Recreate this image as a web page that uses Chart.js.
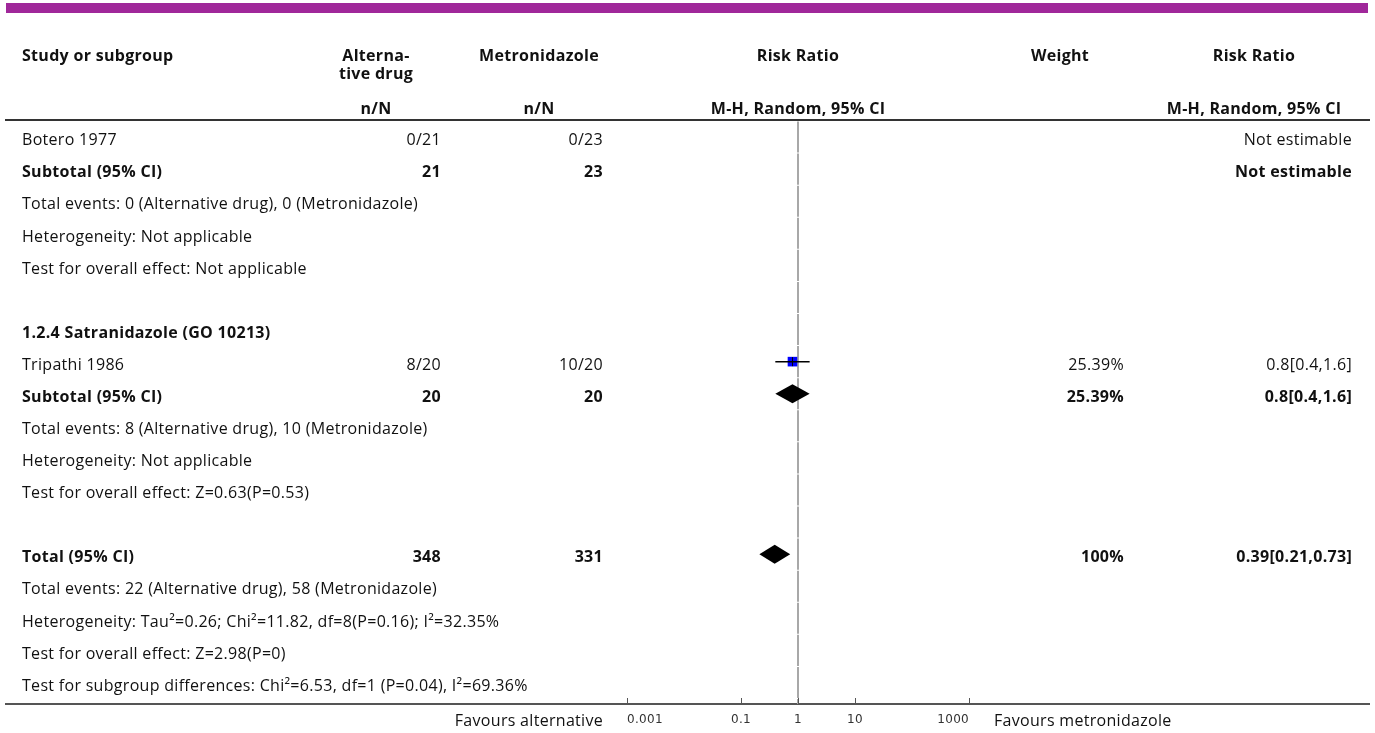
<!DOCTYPE html>
<html>
<head>
<meta charset="utf-8">
<script src="https://cdn.jsdelivr.net/npm/chart.js@4.4.1/dist/chart.umd.min.js"></script>
<style>
  html, body { margin: 0; padding: 0; background: #fff; }
  #page { position: relative; width: 1375px; height: 733px; overflow: hidden;
          font-family: "Open Sans", Lato, sans-serif; font-size: 16px; letter-spacing: 0.3px; color: #111; }
  .t { position: absolute; white-space: nowrap; line-height: 20px; }
  .b { font-weight: bold; }
  .rule { position: absolute; height: 2px; }
  #forest { position: absolute; left: 0; top: 0; }
</style>
</head>
<body>
<div id="page">
  <div style="position:absolute;left:6px;top:3px;width:1362px;height:10px;background:#a0289a"></div>
  <div class="rule" style="left:5px;top:119px;width:1365px;background:#333"></div>
  <div class="rule" style="left:5px;top:703px;width:1365px;background:#555"></div>
  <canvas id="forest" width="1375" height="733"></canvas>
</div>
<script>
// ---- table rows, top to bottom ----
const rowLabels = [
  'Botero 1977',
  'Subtotal (95% CI)',
  'Total events: 0 (Alternative drug), 0 (Metronidazole)',
  'Heterogeneity: Not applicable',
  'Test for overall effect: Not applicable',
  '',
  '1.2.4 Satranidazole (GO 10213)',
  'Tripathi 1986',
  'Subtotal (95% CI)',
  'Total events: 8 (Alternative drug), 10 (Metronidazole)',
  'Heterogeneity: Not applicable',
  'Test for overall effect: Z=0.63(P=0.53)',
  '',
  'Total (95% CI)',
  'Total events: 22 (Alternative drug), 58 (Metronidazole)',
  'Heterogeneity: Tau\u00b2=0.26; Chi\u00b2=11.82, df=8(P=0.16); I\u00b2=32.35%',
  'Test for overall effect: Z=2.98(P=0)',
  'Test for subgroup differences: Chi\u00b2=6.53, df=1 (P=0.04), I\u00b2=69.36%'
];
const boldRows = [1, 6, 8, 13];

// n/N cells per row
const altCells   = { 0: '0/21', 1: '21', 7: '8/20',  8: '20', 13: '348' };
const metroCells = { 0: '0/23', 1: '23', 7: '10/20', 8: '20', 13: '331' };
const notEstimableRows = [0, 1];

// individual studies
const studyRows   = [7];
const studyRR     = [0.8];
const studyLow    = [0.4];
const studyHigh   = [1.6];
const studyWeight = ['25.39%'];

// pooled estimates (subtotal and total)
const pooledRows   = [8, 13];
const pooledRR     = [0.8, 0.39];
const pooledLow    = [0.4, 0.21];
const pooledHigh   = [1.6, 0.73];
const pooledWeight = ['25.39%', '100%'];

// risk-ratio axis
const axisTicks      = [0.001, 0.1, 1, 10, 1000];
const axisTickLabels = ['0.001', '0.1', '1', '10', '1000'];

// ---- layout ----
const ROW0 = 137.3, ROW_H = 32.08;
const rowCenter = i => ROW0 + ROW_H * i;
const TEXT_DY = 2;

const page = document.getElementById('page');
function put(text, x, yc, align, bold) {
  const d = document.createElement('div');
  d.className = 't' + (bold ? ' b' : '');
  d.textContent = text;
  d.style.top = (yc - 10) + 'px';
  if (align === 'left') d.style.left = x + 'px';
  else if (align === 'right') d.style.right = (1375 - x) + 'px';
  else { d.style.left = (x - 200) + 'px'; d.style.width = '400px'; d.style.textAlign = 'center'; }
  page.appendChild(d);
}

// header
put('Study or subgroup', 22, 55, 'left', true);
put('Alterna-', 376, 55, 'center', true);
put('tive drug', 376, 73, 'center', true);
put('Metronidazole', 539, 55, 'center', true);
put('Risk Ratio', 798, 55, 'center', true);
put('Weight', 1060, 55, 'center', true);
put('Risk Ratio', 1254, 55, 'center', true);
put('n/N', 376, 108, 'center', true);
put('n/N', 539, 108, 'center', true);
put('M-H, Random, 95% CI', 798, 108, 'center', true);
put('M-H, Random, 95% CI', 1254, 108, 'center', true);

const ciText = (rr, lo, hi) => rr + '[' + lo + ',' + hi + ']';

rowLabels.forEach((label, i) => {
  const yc = rowCenter(i) + TEXT_DY;
  const bold = boldRows.includes(i);
  if (label) put(label, 22, yc, 'left', bold);
  if (altCells[i]) put(altCells[i], 441, yc, 'right', bold);
  if (metroCells[i]) put(metroCells[i], 603, yc, 'right', bold);
  if (notEstimableRows.includes(i)) put('Not estimable', 1352, yc, 'right', bold);
});
studyRows.forEach((r, k) => {
  const yc = rowCenter(r) + TEXT_DY;
  put(studyWeight[k], 1124, yc, 'right', false);
  put(ciText(studyRR[k], studyLow[k], studyHigh[k]), 1352, yc, 'right', false);
});
pooledRows.forEach((r, k) => {
  const yc = rowCenter(r) + TEXT_DY;
  put(pooledWeight[k], 1124, yc, 'right', true);
  put(ciText(pooledRR[k], pooledLow[k], pooledHigh[k]), 1352, yc, 'right', true);
});

put('Favours alternative', 603, 720, 'right', false);
put('Favours metronidazole', 994, 720, 'left', false);

// ---- forest plot ----
const Y_MIN = -0.5, Y_MAX = 17.67;

const nullLine = {
  id: 'nullLine',
  beforeDatasetsDraw(chart) {
    const { ctx, chartArea, scales: { x, y } } = chart;
    const px = x.getPixelForValue(1);
    ctx.save();
    ctx.strokeStyle = '#a8a8a8';
    ctx.lineWidth = 2;
    for (let b = Y_MIN; b < Y_MAX; b += 1) {
      const y0 = y.getPixelForValue(b) + 0.5;
      const y1 = Math.min(y.getPixelForValue(b + 1) - 0.5, chartArea.bottom);
      ctx.beginPath();
      ctx.moveTo(px, y0);
      ctx.lineTo(px, y1);
      ctx.stroke();
    }
    ctx.restore();
  }
};

const diamonds = {
  id: 'diamonds',
  afterDatasetsDraw(chart) {
    const { ctx, scales: { x, y } } = chart;
    ctx.save();
    ctx.fillStyle = '#000';
    pooledRows.forEach((r, k) => {
      const yc = y.getPixelForValue(r);
      const h = Math.abs(y.getPixelForValue(r + 0.296) - yc);
      ctx.beginPath();
      ctx.moveTo(x.getPixelForValue(pooledLow[k]), yc);
      ctx.lineTo(x.getPixelForValue(pooledRR[k]), yc - h);
      ctx.lineTo(x.getPixelForValue(pooledHigh[k]), yc);
      ctx.lineTo(x.getPixelForValue(pooledRR[k]), yc + h);
      ctx.closePath();
      ctx.fill();
    });
    ctx.restore();
  }
};

const tickMarks = {
  id: 'tickMarks',
  afterDraw(chart) {
    const { ctx, chartArea, scales: { x } } = chart;
    ctx.save();
    ctx.strokeStyle = '#555';
    ctx.lineWidth = 1;
    axisTicks.forEach(v => {
      const px = Math.round(x.getPixelForValue(v)) + 0.5;
      ctx.beginPath();
      ctx.moveTo(px, chartArea.bottom - 6);
      ctx.lineTo(px, chartArea.bottom);
      ctx.stroke();
    });
    ctx.restore();
  }
};

const studyPoints = studyRows.map((r, k) => ({ x: studyRR[k], y: r }));

new Chart(document.getElementById('forest'), {
  type: 'scatter',
  data: {
    datasets: [
      {
        data: studyPoints,
        pointStyle: 'line', rotation: 90, pointRadius: 4.5,
        borderColor: '#000', borderWidth: 1, order: 0
      },
      ...studyRows.map((r, k) => ({
        data: [{ x: studyLow[k], y: r }, { x: studyHigh[k], y: r }],
        showLine: true, borderColor: '#000', borderWidth: 1.5,
        pointRadius: 0, order: 1
      })),
      {
        data: studyPoints,
        pointStyle: 'rect', pointRadius: 6.8,
        backgroundColor: '#0000ff', borderColor: '#0000d0', borderWidth: 0, order: 2
      }
    ]
  },
  options: {
    responsive: false,
    animation: false,
    events: [],
    layout: { padding: { left: 627, right: 406, top: 121, bottom: 0 } },
    plugins: { legend: { display: false }, tooltip: { enabled: false } },
    scales: {
      x: {
        type: 'logarithmic',
        position: 'bottom',
        min: 0.001, max: 1000,
        grid: { display: false },
        border: { display: true, color: '#555', width: 2 },
        afterBuildTicks: s => { s.ticks = axisTicks.map(v => ({ value: v })); },
        afterFit: s => { s.height = 29; },
        ticks: {
          align: 'inner', autoSkip: false, maxRotation: 0,
          padding: 1, color: '#333',
          font: { family: 'DejaVu Sans', size: 12 },
          callback: (v, i) => axisTickLabels[i]
        }
      },
      y: {
        type: 'linear', display: false, reverse: true,
        min: Y_MIN, max: Y_MAX
      }
    }
  },
  plugins: [nullLine, diamonds, tickMarks]
});
</script>
</body>
</html>
